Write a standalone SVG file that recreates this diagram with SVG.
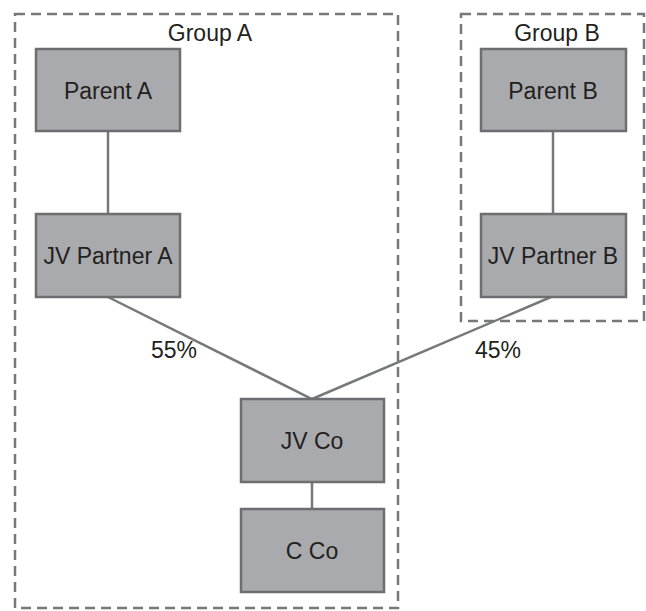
<svg xmlns="http://www.w3.org/2000/svg" width="646" height="611" viewBox="0 0 646 611">
<style>
.grp{fill:none;stroke:#77787b;stroke-width:2.5;stroke-dasharray:10,6}
.box{fill:#a9aaad;stroke:#6d6e71;stroke-width:2.5}
.lbl{font-family:"Liberation Sans",Arial,sans-serif;font-size:23px;fill:#231f20;text-anchor:middle}
.con{stroke:#77787b;stroke-width:2.5;fill:none}
</style>
<rect width="646" height="611" fill="#ffffff"/>
<g id="groupA"><rect class="grp" x="15" y="14" width="383" height="594"/><text class="lbl" x="210" y="41">Group A</text></g>
<g id="groupB"><rect class="grp" x="461" y="14" width="183" height="307"/><text class="lbl" x="557" y="41">Group B</text></g>
<g id="connectors">
<line class="con" x1="108" y1="131" x2="108" y2="214"/>
<line class="con" x1="553" y1="131" x2="553" y2="214"/>
<polyline class="con" points="108,297 312,399 551,297"/>
<line class="con" x1="312" y1="482" x2="312" y2="509"/>
<text class="lbl" x="174" y="358">55%</text>
<text class="lbl" x="498" y="358">45%</text>
</g>
<g id="parentA"><rect class="box" x="36" y="49" width="144" height="82"/><text class="lbl" x="108" y="99">Parent A</text></g>
<g id="parentB"><rect class="box" x="481" y="49" width="145" height="82"/><text class="lbl" x="553" y="99">Parent B</text></g>
<g id="jvPartnerA"><rect class="box" x="36" y="214" width="144" height="83"/><text class="lbl" x="108" y="264">JV Partner A</text></g>
<g id="jvPartnerB"><rect class="box" x="481" y="214" width="145" height="83"/><text class="lbl" x="553" y="264">JV Partner B</text></g>
<g id="jvCo"><rect class="box" x="241" y="399" width="143" height="83"/><text class="lbl" x="312" y="449">JV Co</text></g>
<g id="cCo"><rect class="box" x="241" y="509" width="143" height="83"/><text class="lbl" x="312" y="559">C Co</text></g>
</svg>
